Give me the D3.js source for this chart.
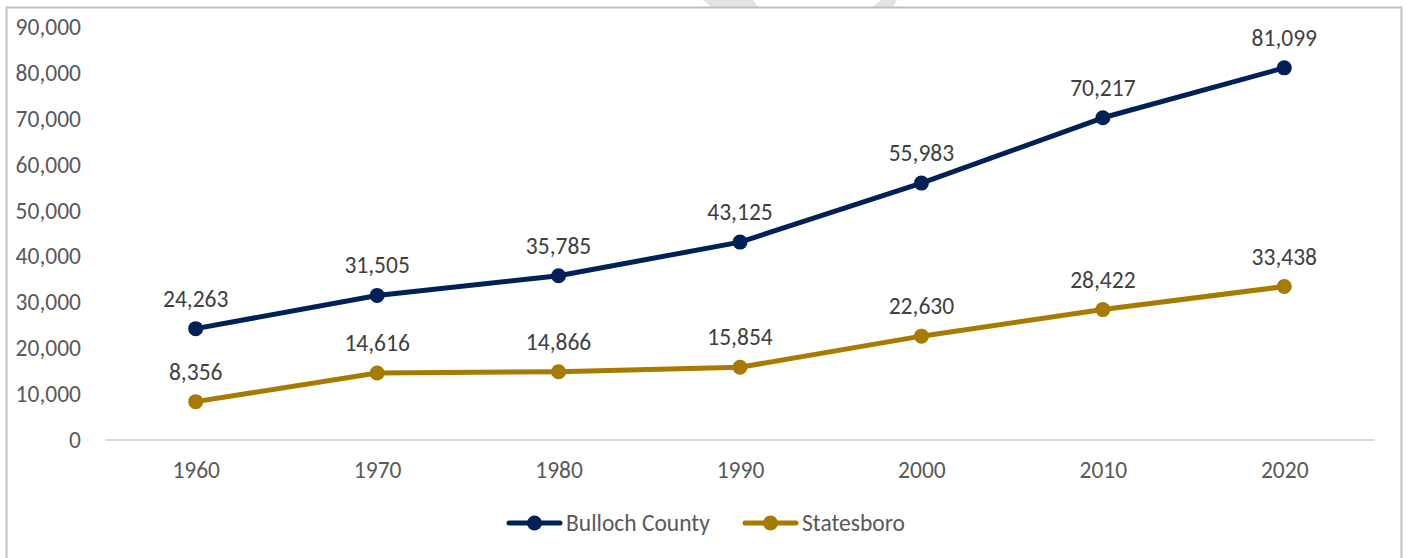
<!DOCTYPE html>
<html><head><meta charset="utf-8">
<script src="https://cdn.jsdelivr.net/npm/d3@7"></script>
<style>
body{margin:0;background:#fff;}
svg{display:block;font-family:Carlito,Lato,"Open Sans",sans-serif;}
</style></head>
<body><svg id="c" width="1406" height="558"></svg>
<script>
const years = ["1960","1970","1980","1990","2000","2010","2020"];
const bulloch = [24263,31505,35785,43125,55983,70217,81099];
const statesboro = [8356,14616,14866,15854,22630,28422,33438];
const yTicks = [0,10000,20000,30000,40000,50000,60000,70000,80000,90000];
const seriesNames = ["Bulloch County","Statesboro"];
const colors = ["#002157","#A67B00"];

const svg = d3.select("#c");
// watermark fragments
svg.append("polygon").attr("points","703,0 753,0 758,7 711,7").attr("fill","#e3e3e3");
svg.append("polygon").attr("points","881,0 897,0 893,7 873,7").attr("fill","#e3e3e3");
// frame
svg.append("path").attr("d","M6.5,560 V7.5 H1401.5 V560").attr("fill","none").attr("stroke","#bfbfbf").attr("stroke-width",2);

const x = d3.scalePoint().domain(years).range([105,1375]).padding(0.5);
const y = d3.scaleLinear().domain([0,90000]).range([440,27]);
const fmt = d3.format(",");

// y axis labels
const yAxis = d3.axisLeft(y).tickValues(yTicks).tickFormat(fmt).tickSize(0).tickPadding(0);
const ga = svg.append("g").attr("transform","translate(81,0)").call(yAxis).attr("font-family",null).attr("font-size",null);
ga.select(".domain").remove();
ga.selectAll("text").attr("font-size",23.5).attr("fill","#595959");

// x axis
const xAxis = d3.axisBottom(x).tickSize(0).tickPadding(21);
const gx = svg.append("g").attr("transform","translate(0,440)").call(xAxis).attr("font-family",null).attr("font-size",null);
gx.select(".domain").attr("stroke","#d9d9d9").attr("stroke-width",2).attr("d","M105,0H1375");
gx.selectAll("text").attr("font-size",23.5).attr("fill","#595959");

const data = [bulloch, statesboro];
const line = d3.line().x((d,i)=>x(years[i])).y(d=>y(d));
data.forEach((vals,k)=>{
  svg.append("path").datum(vals).attr("d",line).attr("fill","none")
    .attr("stroke",colors[k]).attr("stroke-width",5).attr("stroke-linejoin","round").attr("stroke-linecap","round");
  svg.selectAll(null).data(vals).enter().append("circle")
    .attr("cx",(d,i)=>x(years[i])).attr("cy",d=>y(d)).attr("r",7.5).attr("fill",colors[k]);
  svg.selectAll(null).data(vals).enter().append("text")
    .attr("x",(d,i)=>x(years[i])).attr("y",d=>y(d)-22).attr("text-anchor","middle")
    .attr("font-size",23.5).attr("fill","#404040").text(d=>fmt(d));
});

// legend
const legX = [507,743];
seriesNames.forEach((n,k)=>{
  const g = svg.append("g").attr("transform",`translate(${legX[k]},523)`);
  g.append("line").attr("x1",2).attr("x2",53).attr("stroke",colors[k]).attr("stroke-width",5).attr("stroke-linecap","round");
  g.append("circle").attr("cx",27.5).attr("r",7.5).attr("fill",colors[k]);
  g.append("text").attr("x",59).attr("y",0).attr("dy","0.35em").attr("font-size",23.5).attr("fill","#595959").text(n);
});
</script></body></html>
